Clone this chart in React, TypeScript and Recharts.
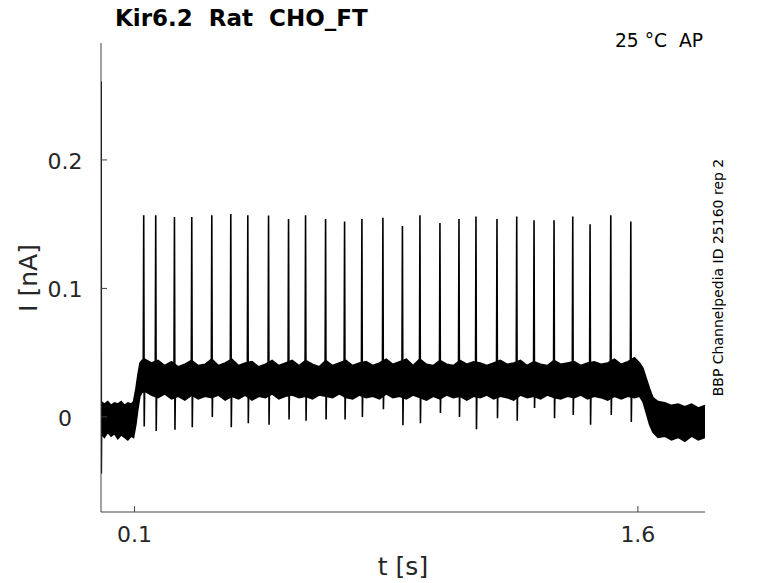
import React from 'react';
import { ComposedChart, Area, Line, XAxis, YAxis } from 'recharts';

// Spikes (time in s, current in nA)
const spikeTimes = [0.1273, 0.1631, 0.2189, 0.2705, 0.3302, 0.3868, 0.4375, 0.4993, 0.5589, 0.6096, 0.6693, 0.7259, 0.7775, 0.8401, 0.8983, 0.9505, 1.0101, 1.0668, 1.1175, 1.1801, 1.2389, 1.2905, 1.3501, 1.4059, 1.4575, 1.5192, 1.5789];
const spikePeaks = [0.157, 0.157, 0.1556, 0.1556, 0.157, 0.158, 0.157, 0.1567, 0.154, 0.157, 0.154, 0.152, 0.154, 0.155, 0.1486, 0.157, 0.151, 0.154, 0.156, 0.154, 0.156, 0.153, 0.153, 0.156, 0.15, 0.157, 0.152];
const spikeTroughs = [-0.0075, -0.011, -0.01, -0.008, 0.0, -0.008, -0.005, -0.006, -0.002, -0.003, -0.002, -0.002, 0.0, 0.006, -0.0065, -0.005, 0.003, 0.0, -0.0096, -0.001, -0.003, 0.007, -0.001, 0.0015, -0.006, 0.0015, -0.004];

// Noise band envelope of the recorded trace
const bandTimes = [
  0, 0.01, 0.02, 0.03, 0.04, 0.05, 0.06, 0.07, 0.08, 0.09, 0.097, 0.104, 0.11, 0.116, 0.122,
  0.13, 0.15, 0.17, 0.19, 0.21, 0.23, 0.25, 0.27, 0.29, 0.31, 0.33, 0.35, 0.37, 0.39, 0.41, 0.43, 0.45, 0.47, 0.49,
  0.51, 0.53, 0.55, 0.57, 0.59, 0.61, 0.63, 0.65, 0.67, 0.69, 0.71, 0.73, 0.75, 0.77, 0.79, 0.81, 0.83, 0.85, 0.87,
  0.89, 0.91, 0.93, 0.95, 0.97, 0.99, 1.01, 1.03, 1.05, 1.07, 1.09, 1.11, 1.13, 1.15, 1.17, 1.19, 1.21, 1.23, 1.25,
  1.27, 1.29, 1.31, 1.33, 1.35, 1.37, 1.39, 1.41, 1.43, 1.45, 1.47, 1.49, 1.51, 1.53, 1.55, 1.57, 1.59, 1.605,
  1.615, 1.625, 1.635, 1.645, 1.66, 1.68, 1.7, 1.72, 1.74, 1.76, 1.78, 1.8,
];
const bandHigh = [
  0.012, 0.01, 0.012, 0.009, 0.011, 0.01, 0.012, 0.009, 0.011, 0.01, 0.012, 0.022, 0.033, 0.042, 0.044,
  0.045, 0.042, 0.044, 0.04, 0.043, 0.039, 0.041, 0.044, 0.04, 0.041, 0.045, 0.04, 0.042, 0.045, 0.04, 0.042, 0.043, 0.039, 0.041,
  0.044, 0.04, 0.042, 0.044, 0.04, 0.044, 0.041, 0.039, 0.044, 0.04, 0.042, 0.044, 0.04, 0.042, 0.043, 0.04, 0.042, 0.045, 0.041,
  0.043, 0.045, 0.04, 0.045, 0.041, 0.04, 0.044, 0.041, 0.04, 0.044, 0.041, 0.043, 0.042, 0.04, 0.042, 0.044, 0.041, 0.042, 0.044,
  0.04, 0.043, 0.041, 0.04, 0.044, 0.041, 0.042, 0.043, 0.04, 0.042, 0.043, 0.041, 0.042, 0.045, 0.041, 0.043, 0.046, 0.042,
  0.038, 0.03, 0.022, 0.015, 0.012, 0.011, 0.009, 0.01, 0.008, 0.01, 0.007, 0.009,
];
const bandLow = [
  -0.013, -0.016, -0.012, -0.015, -0.013, -0.017, -0.014, -0.016, -0.018, -0.015, -0.016, -0.006, 0.006, 0.016, 0.019,
  0.02, 0.017, 0.015, 0.018, 0.014, 0.016, 0.013, 0.017, 0.014, 0.016, 0.015, 0.017, 0.013, 0.016, 0.014, 0.017, 0.013, 0.016, 0.015,
  0.018, 0.014, 0.016, 0.017, 0.015, 0.016, 0.014, 0.017, 0.016, 0.015, 0.018, 0.015, 0.014, 0.017, 0.015, 0.016, 0.014, 0.018, 0.015,
  0.016, 0.014, 0.017, 0.015, 0.013, 0.016, 0.014, 0.017, 0.015, 0.016, 0.013, 0.016, 0.015, 0.017, 0.014, 0.016, 0.015, 0.013, 0.017,
  0.015, 0.016, 0.014, 0.017, 0.015, 0.014, 0.016, 0.015, 0.017, 0.014, 0.016, 0.015, 0.013, 0.016, 0.014, 0.016, 0.015, 0.016,
  0.012, 0.003, -0.006, -0.012, -0.016, -0.015, -0.018, -0.016, -0.019, -0.015, -0.018, -0.016,
];

// Mean levels of the trace between spikes and the start-up transient
const levelTimes = [0, 0.0005, 0.001, 0.002, 0.097, 0.116, 1.607, 1.645, 1.8];
const levelValues = [0.0, 0.261, -0.044, -0.002, -0.002, 0.029, 0.029, -0.002, -0.002];

const xTicks = [0.1, 1.6];
const yTicks = [0, 0.1, 0.2];

const bandData = bandTimes.map((t, i) => ({ t, range: [bandLow[i], bandHigh[i]] }));

const traceData = (() => {
  const pts: { t: number; v: number }[] = levelTimes.map((t, i) => ({ t, v: levelValues[i] }));
  spikeTimes.forEach((t, i) => {
    pts.push({ t: t - 0.0015, v: 0.03 });
    pts.push({ t, v: spikePeaks[i] });
    pts.push({ t: t + 0.0015, v: spikeTroughs[i] });
    pts.push({ t: t + 0.003, v: 0.028 });
  });
  return pts.sort((a, b) => a.t - b.t);
})();

const FONT = '"DejaVu Sans", sans-serif';

const XTick = (props: any) => {
  const { x, y, payload } = props;
  return (
    <text x={x} y={y} dy="0.71em" textAnchor="middle" fill="#262626" fontSize={22} fontFamily={FONT}>
      {String(payload.value)}
    </text>
  );
};

const YTick = (props: any) => {
  const { x, y, payload } = props;
  return (
    <text x={x} y={y} dy="0.41em" textAnchor="middle" fill="#262626" fontSize={22} fontFamily={FONT}>
      {String(payload.value)}
    </text>
  );
};

export default function App() {
  return (
    <div style={{ position: 'absolute', left: 0, top: 0, width: 778, height: 583, background: '#fff' }}>
      <ComposedChart width={778} height={583} margin={{ top: 43, right: 73, bottom: 31, left: 0 }}>
        <XAxis
          type="number"
          dataKey="t"
          domain={[0, 1.8]}
          ticks={xTicks}
          allowDataOverflow
          height={40}
          tickSize={-6}
          tickMargin={20}
          stroke="#444"
          tick={<XTick />}
        />
        <YAxis
          type="number"
          domain={[-0.074, 0.291]}
          ticks={yTicks}
          allowDataOverflow
          width={101}
          tickSize={-6}
          tickMargin={42}
          stroke="#444"
          tick={<YTick />}
        />
        <Area
          data={bandData}
          dataKey="range"
          type="linear"
          stroke="#000"
          strokeWidth={1.5}
          fill="#000"
          fillOpacity={1}
          isAnimationActive={false}
          dot={false}
          activeDot={false}
        />
        <Line
          data={traceData}
          dataKey="v"
          type="linear"
          stroke="#000"
          strokeWidth={1.6}
          dot={false}
          activeDot={false}
          isAnimationActive={false}
        />
      </ComposedChart>
      <svg width={778} height={583} style={{ position: 'absolute', left: 0, top: 0, pointerEvents: 'none' }}>
        <text x={115} y={26} fontSize={23} fontWeight="bold" fontFamily={FONT} fill="#000" style={{ whiteSpace: 'pre' }}>
          {'Kir6.2  Rat  CHO_FT'}
        </text>
        <text x={703} y={47} fontSize={18.7} textAnchor="end" fontFamily={FONT} fill="#000" style={{ whiteSpace: 'pre' }}>
          {'25 °C  AP'}
        </text>
        <text x={403} y={575} fontSize={25} textAnchor="middle" fontFamily={FONT} fill="#262626">
          t [s]
        </text>
        <text x={37} y={278} fontSize={25} textAnchor="middle" fontFamily={FONT} fill="#262626" transform="rotate(-90, 37, 278)">
          I [nA]
        </text>
        <text x={723} y={277.5} fontSize={14} textAnchor="middle" fontFamily={FONT} fill="#000" transform="rotate(-90, 723, 277.5)">
          BBP Channelpedia ID 25160 rep 2
        </text>
      </svg>
    </div>
  );
}
